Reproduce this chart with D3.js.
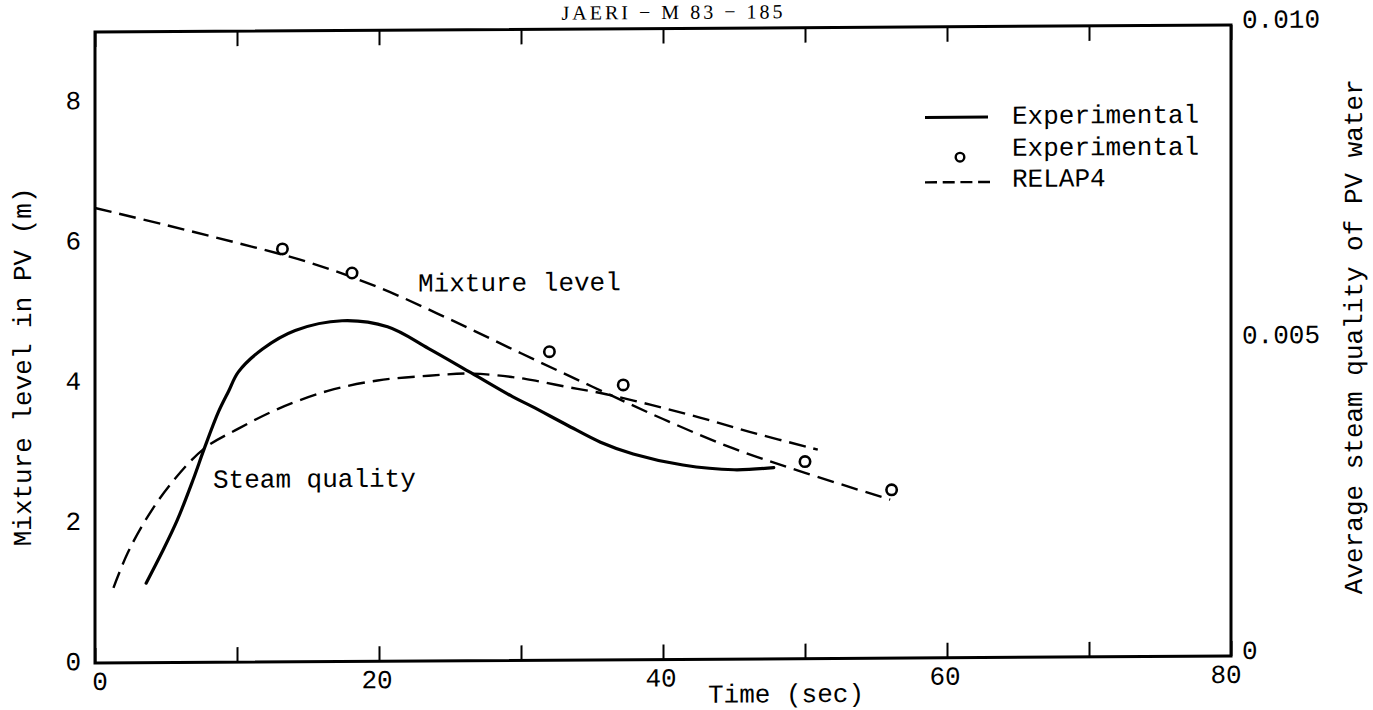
<!DOCTYPE html>
<html>
<head>
<meta charset="utf-8">
<script src="https://cdn.jsdelivr.net/npm/d3@7/dist/d3.min.js"></script>
<style>
  html, body { margin: 0; padding: 0; background: #fff; }
  svg { display: block; }
  text { font-family: "Liberation Mono", "DejaVu Sans Mono", monospace; fill: #000; }
</style>
</head>
<body>
<svg id="chart" width="1373" height="710"></svg>
<script>
// Time axis (s) and tick labels
const timeTicks = [0, 10, 20, 30, 40, 50, 60, 70, 80];
const timeLabels = [0, 20, 40, 60, 80];
const levelLabels = [0, 2, 4, 6, 8];
const qualityLabels = ["0", "0.005", "0.010"];
const qualityLabelValues = [0, 0.005, 0.010];

// Mixture level in PV (m), RELAP4 calculation
const levelCalcTime = [0, 5, 10, 15, 20, 25, 30, 35, 40, 45, 50, 56];
const levelCalc     = [6.49, 6.24, 5.98, 5.70, 5.33, 4.87, 4.38, 3.90, 3.43, 3.00, 2.65, 2.26];

// Mixture level in PV (m), experimental points
const levelExpTime = [13.2, 18.1, 32.0, 37.2, 50.0, 56.1];
const levelExp     = [5.89, 5.54, 4.40, 3.92, 2.81, 2.40];

// Average steam quality of PV water, experimental
const qualExpTime = [3.6, 4.7, 5.8, 6.9, 7.7, 8.7, 9.4, 10.1, 11.8, 14.1, 17.4, 20.6, 23.5, 26.5, 29.4, 30.8, 33.2, 35.6, 37.9, 41.4, 45.0, 47.8];
const qualExp     = [0.00126, 0.00174, 0.00226, 0.00289, 0.00339, 0.00397, 0.00429, 0.00460, 0.00496, 0.00525, 0.00540, 0.00530, 0.00495, 0.00456, 0.00418, 0.00402, 0.00373, 0.00345, 0.00326, 0.00308, 0.00300, 0.00303];

// Average steam quality of PV water, RELAP4 calculation
const qualCalcTime = [1.3, 2.3, 3.7, 5.4, 7.7, 10.1, 12.9, 16.4, 19.9, 23.5, 26.5, 29.4, 30.8, 33.2, 35.6, 39.1, 42.6, 46.1, 50.9];
const qualCalc     = [0.00119, 0.00174, 0.00231, 0.00285, 0.00339, 0.00370, 0.00401, 0.00429, 0.00445, 0.00452, 0.00455, 0.00449, 0.00444, 0.00433, 0.00423, 0.00404, 0.00383, 0.00360, 0.00331];

const legendLabels = ["Experimental", "Experimental", "RELAP4"];

const svg = d3.select("#chart");
const plotLeft = 95, plotRight = 1231, plotTop = 28.5, plotBottom = 659.5;

// slight slant of the sheet: the frame drops toward the left
const slant = -0.00616;
const root = svg.append("g")
  .attr("transform", `matrix(1,${slant},0,1,0,${-slant * 663})`);

const x = d3.scaleLinear().domain([0, 80]).range([plotLeft, plotRight]);
const yLevel = d3.scaleLinear().domain([0, 9]).range([plotBottom, plotTop]);
const yQual = d3.scaleLinear().domain([0, 0.010]).range([plotBottom, plotTop]);

// Header
root.append("text")
  .attr("x", 672).attr("y", 19)
  .attr("text-anchor", "middle")
  .attr("textLength", 221).attr("lengthAdjust", "spacing")
  .style("font-family", "'Liberation Serif', 'DejaVu Serif', serif")
  .style("font-size", "20px")
  .text("JAERI − M 83 − 185");

// Frame
root.append("rect")
  .attr("x", plotLeft).attr("y", plotTop)
  .attr("width", plotRight - plotLeft).attr("height", plotBottom - plotTop)
  .attr("fill", "none").attr("stroke", "#000").attr("stroke-width", 3);

// Inward ticks on bottom and top
const bottomAxis = d3.axisBottom(x).tickValues(timeTicks).tickSize(-15).tickSizeOuter(0).tickFormat("");
const topAxis = d3.axisTop(x).tickValues(timeTicks).tickSize(-15).tickSizeOuter(0).tickFormat("");
root.append("g").attr("transform", `translate(0,${plotBottom})`).call(bottomAxis)
  .call(g => g.select(".domain").remove())
  .call(g => g.selectAll("line").attr("stroke-width", 2));
root.append("g").attr("transform", `translate(0,${plotTop})`).call(topAxis)
  .call(g => g.select(".domain").remove())
  .call(g => g.selectAll("line").attr("stroke-width", 2));

const tickFont = "26px";

// Time labels
root.selectAll(".xlab").data(timeLabels).join("text")
  .attr("class", "xlab")
  .attr("x", d => x(d) + (d === 0 ? 5 : d === 80 ? -5 : -2))
  .attr("y", plotBottom + 20)
  .attr("text-anchor", "middle")
  .attr("dominant-baseline", "central")
  .style("font-size", tickFont)
  .text(d => d);

// Level labels (left)
root.selectAll(".ylab").data(levelLabels).join("text")
  .attr("class", "ylab")
  .attr("x", plotLeft - 14)
  .attr("y", d => yLevel(d))
  .attr("text-anchor", "end")
  .attr("dominant-baseline", "central")
  .style("font-size", tickFont)
  .text(d => d);

// Quality labels (right)
root.selectAll(".qlab").data(qualityLabelValues).join("text")
  .attr("class", "qlab")
  .attr("x", plotRight + 11)
  .attr("y", d => yQual(d) - 4)
  .attr("text-anchor", "start")
  .attr("dominant-baseline", "central")
  .style("font-size", tickFont)
  .text((d, i) => qualityLabels[i]);

// Axis titles
root.append("text")
  .attr("x", 708).attr("y", 696)
  .attr("dominant-baseline", "central")
  .style("font-size", "26px")
  .text("Time (sec)");

root.append("text")
  .attr("transform", "translate(24,363) rotate(-90)")
  .attr("text-anchor", "middle")
  .attr("dominant-baseline", "central")
  .style("font-size", "26px")
  .text("Mixture level in PV (m)");

root.append("text")
  .attr("transform", "translate(1355,341) rotate(-90)")
  .attr("text-anchor", "middle")
  .attr("dominant-baseline", "central")
  .style("font-size", "26px")
  .text("Average steam quality of PV water");

// Curves
const curve = d3.curveCatmullRom.alpha(0.5);
const lineLevel = d3.line().x(d => x(d[0])).y(d => yLevel(d[1])).curve(curve);
const lineQual = d3.line().x(d => x(d[0])).y(d => yQual(d[1])).curve(curve);

const dash = "17,8";

root.append("path")
  .datum(d3.zip(levelCalcTime, levelCalc))
  .attr("d", lineLevel)
  .attr("fill", "none").attr("stroke", "#000").attr("stroke-width", 2.4)
  .attr("stroke-dasharray", dash);

root.append("path")
  .datum(d3.zip(qualCalcTime, qualCalc))
  .attr("d", lineQual)
  .attr("fill", "none").attr("stroke", "#000").attr("stroke-width", 2.4)
  .attr("stroke-dasharray", dash);

root.append("path")
  .datum(d3.zip(qualExpTime, qualExp))
  .attr("d", lineQual)
  .attr("fill", "none").attr("stroke", "#000").attr("stroke-width", 3.2)
  .attr("stroke-linecap", "round");

root.selectAll(".pt").data(d3.zip(levelExpTime, levelExp)).join("circle")
  .attr("class", "pt")
  .attr("cx", d => x(d[0])).attr("cy", d => yLevel(d[1]))
  .attr("r", 5.2)
  .attr("fill", "#fff").attr("stroke", "#000").attr("stroke-width", 2.6);

// Curve annotations
root.append("text")
  .attr("x", 418).attr("y", 283)
  .attr("dominant-baseline", "central")
  .style("font-size", "26px")
  .text("Mixture level");

root.append("text")
  .attr("x", 213).attr("y", 478)
  .attr("dominant-baseline", "central")
  .style("font-size", "26px")
  .text("Steam quality");

// Legend
const lg = root.append("g");
const rows = [119, 151, 182];
lg.append("line").attr("x1", 925).attr("x2", 988).attr("y1", rows[0]).attr("y2", rows[0])
  .attr("stroke", "#000").attr("stroke-width", 3);
lg.append("circle").attr("cx", 960).attr("cy", rows[1] + 8).attr("r", 4.3)
  .attr("fill", "#fff").attr("stroke", "#000").attr("stroke-width", 2.4);
lg.append("line").attr("x1", 925).attr("x2", 990).attr("y1", rows[2] + 2).attr("y2", rows[2] + 2)
  .attr("stroke", "#000").attr("stroke-width", 2.4).attr("stroke-dasharray", "12,5.7");
lg.selectAll("text").data(legendLabels).join("text")
  .attr("x", 1012)
  .attr("y", (d, i) => rows[i])
  .attr("dominant-baseline", "central")
  .style("font-size", "26px")
  .text(d => d);
</script>
</body>
</html>
